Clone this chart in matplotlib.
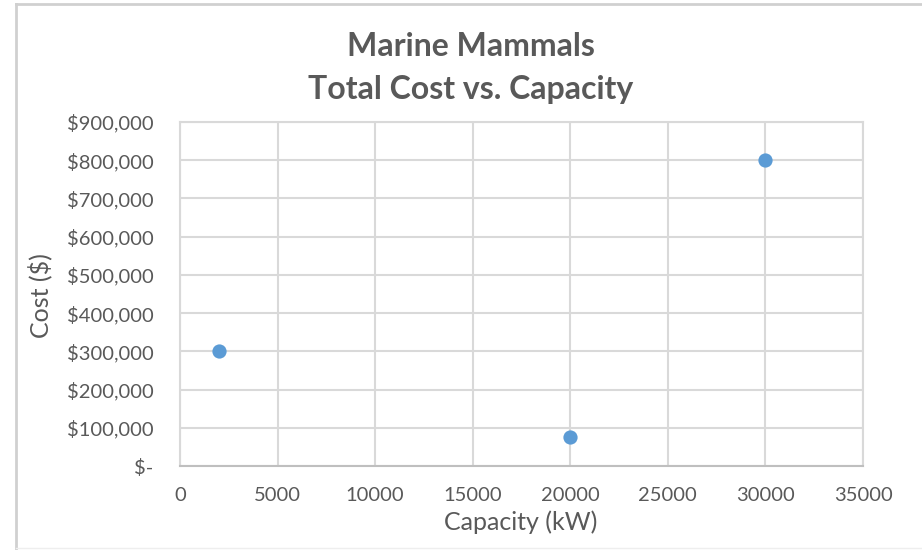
import matplotlib
matplotlib.use('Agg')
import matplotlib.pyplot as plt
from matplotlib.ticker import FuncFormatter, MultipleLocator
from matplotlib.lines import Line2D

# data
capacity_kw = [2000, 20000, 30000]
cost_usd = [300000, 75000, 800000]

title_lines = ["Marine Mammals", "Total Cost vs. Capacity"]
x_label = "Capacity (kW)"
y_label = "Cost ($)"

plt.rcParams['font.family'] = ['Lato', 'DejaVu Sans']
txt_col = '#595959'
grid_col = '#D9D9D9'

fig = plt.figure(figsize=(9.22, 5.5), dpi=100)
ax = fig.add_axes([180/922, 1 - 466/550, (863-180)/922, (466-122)/550])

ax.scatter(capacity_kw, cost_usd, s=105, color='#5B9BD5', zorder=3, linewidths=0)

ax.set_xlim(0, 35000)
ax.set_ylim(0, 900000)
ax.xaxis.set_major_locator(MultipleLocator(5000))
ax.yaxis.set_major_locator(MultipleLocator(100000))

def money(v, pos):
    if v == 0:
        return '$-'
    return '${:,.0f}'.format(v)
ax.yaxis.set_major_formatter(FuncFormatter(money))

ax.grid(True, color=grid_col, linewidth=1.5)
ax.set_axisbelow(True)
for s in ax.spines.values():
    s.set_color(grid_col)
    s.set_linewidth(1.5)
ax.spines['bottom'].set_color('#BFBFBF')
ax.tick_params(length=0, labelsize=14.5, colors=txt_col)
ax.tick_params(axis='x', pad=15)
ax.tick_params(axis='y', pad=19)

fig.text(40/922, 1 - 296/550, y_label, rotation=90, ha='center', va='center',
         fontsize=18, color=txt_col)
fig.text(521/922, 1 - 522/550, x_label, ha='center', va='center',
         fontsize=18, color=txt_col)
fig.text(471/922, 1 - 47/550, title_lines[0], ha='center', va='center',
         fontsize=23, fontweight='bold', color=txt_col)
fig.text(471/922, 1 - 90/550, title_lines[1], ha='center', va='center',
         fontsize=23, fontweight='bold', color=txt_col)

# outer chart frame
fc = '#D0D0D0'
fig.add_artist(Line2D([16/922, 16/922], [0, 1 - 4/550], transform=fig.transFigure, color=fc, lw=2))
fig.add_artist(Line2D([16/922, 1], [1 - 4/550, 1 - 4/550], transform=fig.transFigure, color=fc, lw=2))
fig.add_artist(Line2D([16/922, 1], [1 - 548/550, 1 - 548/550], transform=fig.transFigure, color='#EEEEEE', lw=1))

fig.savefig('out.png', dpi=100)
